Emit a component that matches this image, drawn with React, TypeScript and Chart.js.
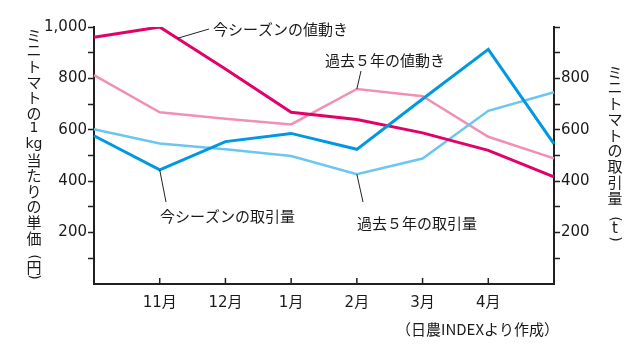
import React, { useEffect, useRef } from "react";
import { Chart, registerables } from "chart.js";

Chart.register(...registerables);

const categories = ["", "11月", "12月", "1月", "2月", "3月", "4月", ""];
const priceThisSeason = [960, 1000, 837, 668, 640, 588, 520, 417];
const pricePast5 = [813, 668, 643, 621, 759, 731, 573, 489];
const volumeThisSeason = [577, 444, 554, 586, 524, 720, 913, 545];
const volumePast5 = [602, 547, 524, 498, 427, 488, 674, 746];
const leftTickLabels = [200, 400, 600, 800, 1000];
const rightTickLabels = [200, 400, 600, 800];

const leftTitle = ["ミ", "ニ", "ト", "マ", "ト", "の", "1", "kg", "当", "た", "り", "の", "単", "価"];
const leftUnit = "円";
const rightTitle = ["ミ", "ニ", "ト", "マ", "ト", "の", "取", "引", "量"];
const rightUnit = "t";
const labelPriceThis = "今シーズンの値動き";
const labelPricePast = "過去５年の値動き";
const labelVolThis = "今シーズンの取引量";
const labelVolPast = "過去５年の取引量";
const sourceNote = "（日農INDEXより作成）";

const MAGENTA = "#e4006b";
const PINK = "#f190b6";
const BLUE = "#0098df";
const LIGHTBLUE = "#6cc6f0";
const AXIS = "#231f20";
const NUMFONT = "'DejaVu Sans', 'Noto Sans CJK JP', sans-serif";
const JPFONT = "'Noto Sans CJK JP', sans-serif";

const fmt = (v: number) => v.toLocaleString("en-US");

const decorPlugin = {
  id: "decor",
  afterDraw(chart: any) {
    const ctx = chart.ctx as CanvasRenderingContext2D;
    const xs = chart.scales.x;
    const yl = chart.scales.yL;
    const yr = chart.scales.yR;
    const area = chart.chartArea;
    ctx.save();

    // inward x ticks
    ctx.strokeStyle = AXIS;
    ctx.lineWidth = 1.5;
    for (let i = 1; i < categories.length - 1; i++) {
      const px = xs.getPixelForValue(i);
      ctx.beginPath();
      ctx.moveTo(px, area.bottom);
      ctx.lineTo(px, area.bottom - 6);
      ctx.stroke();
    }

    // leaders
    const pt = (scale: any, arr: number[], i: number, t: number) => {
      const x0 = xs.getPixelForValue(i);
      const x1 = xs.getPixelForValue(i + 1);
      const y0 = scale.getPixelForValue(arr[i]);
      const y1 = scale.getPixelForValue(arr[i + 1]);
      return [x0 + (x1 - x0) * t, y0 + (y1 - y0) * t];
    };
    ctx.strokeStyle = "#222";
    ctx.lineWidth = 1;
    const leader = (s: number[], ex: number, ey: number) => {
      ctx.beginPath();
      ctx.moveTo(s[0], s[1]);
      ctx.lineTo(ex, ey);
      ctx.stroke();
    };
    leader(pt(yl, priceThisSeason, 1, 0.27), 209, 29);
    leader(pt(yl, pricePast5, 4, 0), 361, 71);
    leader(pt(yr, volumeThisSeason, 1, 0), 166, 202);
    leader(pt(yr, volumePast5, 4, 0), 363, 202);

    // labels
    ctx.fillStyle = "#1a1a1a";
    ctx.font = `15px ${JPFONT}`;
    ctx.textBaseline = "middle";
    ctx.textAlign = "left";
    ctx.fillText(labelPriceThis, 213, 29);
    ctx.fillText(labelPricePast, 325, 60);
    ctx.fillText(labelVolThis, 160, 216);
    ctx.fillText(labelVolPast, 357, 223);
    ctx.fillText(sourceNote, 396, 329);

    // vertical titles
    ctx.textAlign = "center";
    const drawVert = (chars: string[], x: number, y0: number, step: number) => {
      chars.forEach((c, i) => {
        if (c === "kg" || c === "1") {
          ctx.font = `14px ${NUMFONT}`;
        } else {
          ctx.font = `15px ${JPFONT}`;
        }
        ctx.fillText(c, x, y0 + i * step);
      });
    };
    const drawParen = (c: string, x: number, y: number) => {
      ctx.save();
      ctx.translate(x, y);
      ctx.rotate(Math.PI / 2);
      ctx.font = `14px ${NUMFONT}`;
      ctx.fillText(c, 0, 0);
      ctx.restore();
    };
    drawVert(leftTitle, 34, 35, 15.6);
    drawParen("(", 34, 257);
    ctx.font = `15px ${JPFONT}`;
    ctx.fillText(leftUnit, 34, 267);
    drawParen(")", 34, 277);

    drawVert(rightTitle, 615, 72, 15.75);
    drawParen("(", 615, 219);
    ctx.font = `15px ${NUMFONT}`;
    ctx.fillText(rightUnit, 615, 229);
    drawParen(")", 615, 239);

    ctx.restore();
  },
};

export default function App() {
  const ref = useRef<HTMLCanvasElement | null>(null);
  useEffect(() => {
    const canvas = ref.current;
    if (!canvas) return;
    const tickColor = (ctx: any) => (ctx.tick && ctx.tick.value === 0 ? "rgba(0,0,0,0)" : AXIS);
    const chart = new Chart(canvas, {
      type: "line",
      data: {
        labels: categories,
        datasets: [
          { label: labelVolThis, data: volumeThisSeason, yAxisID: "yR", borderColor: BLUE, borderWidth: 3, order: 1 },
          { label: labelPriceThis, data: priceThisSeason, yAxisID: "yL", borderColor: MAGENTA, borderWidth: 3, order: 2 },
          { label: labelVolPast, data: volumePast5, yAxisID: "yR", borderColor: LIGHTBLUE, borderWidth: 2.5, order: 3 },
          { label: labelPricePast, data: pricePast5, yAxisID: "yL", borderColor: PINK, borderWidth: 2.5, order: 4 },
        ],
      },
      options: {
        responsive: false,
        devicePixelRatio: 1,
        animation: false,
        events: [],
        layout: { padding: { top: 27, left: 0, right: 0, bottom: 0 } },
        elements: {
          point: { radius: 0 },
          line: { tension: 0, borderCapStyle: "butt", borderJoinStyle: "miter", fill: false },
        },
        plugins: { legend: { display: false }, tooltip: { enabled: false }, title: { display: false } },
        scales: {
          x: {
            type: "category",
            offset: false,
            grid: { display: true, drawOnChartArea: false, drawTicks: false },
            border: { display: true, color: AXIS, width: 2 },
            ticks: {
              autoSkip: false,
              maxRotation: 0,
              padding: 10,
              color: "#1a1a1a",
              font: { family: NUMFONT, size: 15 },
            },
            afterFit: (s: any) => {
              s.height = 68;
            },
          },
          yL: {
            type: "linear",
            position: "left",
            min: 0,
            max: 1000,
            grid: { drawOnChartArea: false, drawTicks: true, tickLength: 6, tickWidth: 1.5, tickColor, color: tickColor },
            border: { display: true, color: AXIS, width: 2 },
            ticks: {
              stepSize: 100,
              autoSkip: false,
              padding: 1,
              color: "#1a1a1a",
              font: { family: NUMFONT, size: 15 },
              callback: (v: any) => (leftTickLabels.includes(Number(v)) ? fmt(Number(v)) : ""),
            },
            afterFit: (s: any) => {
              s.width = 94;
            },
          },
          yR: {
            type: "linear",
            position: "right",
            min: 0,
            max: 1000,
            grid: { drawOnChartArea: false, drawTicks: true, tickLength: 6, tickWidth: 1.5, tickColor, color: tickColor },
            border: { display: true, color: AXIS, width: 2 },
            ticks: {
              stepSize: 100,
              autoSkip: false,
              padding: 1,
              color: "#1a1a1a",
              font: { family: NUMFONT, size: 15 },
              callback: (v: any) => (rightTickLabels.includes(Number(v)) ? fmt(Number(v)) : ""),
            },
            afterFit: (s: any) => {
              s.width = 86;
            },
          },
        },
      },
      plugins: [decorPlugin],
    } as any);
    return () => chart.destroy();
  }, []);
  return (
    <div style={{ position: "absolute", left: 0, top: 0, width: 640, height: 352, background: "#fff" }}>
      <canvas ref={ref} width={640} height={352} style={{ display: "block" }} />
    </div>
  );
}
